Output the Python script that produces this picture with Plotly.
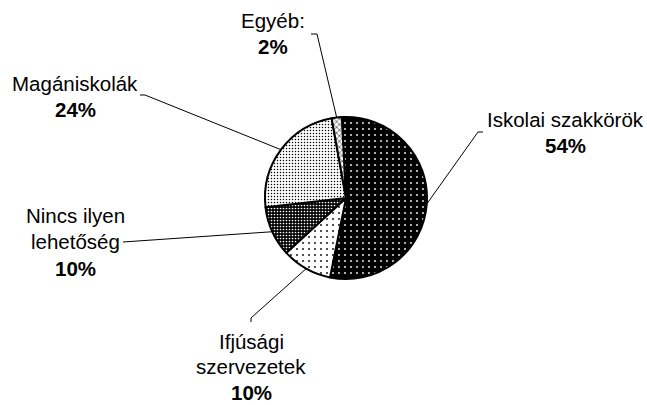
import math
import plotly.graph_objects as go

labels = ["Iskolai szakkörök", "Ifjúsági szervezetek", "Nincs ilyen lehetőség", "Magániskolák", "Egyéb:"]
label_lines = [["Iskolai szakkörök"], ["Ifjúsági", "szervezetek"], ["Nincs ilyen", "lehetőség"], ["Magániskolák"], ["Egyéb:"]]
values = [54, 10, 10, 24, 2]
pct_text = ["54%", "10%", "10%", "24%", "2%"]

W, H = 647, 405
CX, CY, R = 346, 198, 81
ROT = -3

bg = ["#000000", "#ffffff", "#000000", "#ffffff", "#ffffff"]
fg = ["#ffffff", "#000000", "#ffffff", "#000000", "#555555"]
shapes_p = [".", ".", ".", ".", "x"]
psize = [6, 6, 3, 3, 4]
psol = [0.07, 0.07, 0.25, 0.2, 0.35]

fig = go.Figure(go.Pie(
    labels=labels, values=values, sort=False, direction="clockwise", rotation=ROT,
    textinfo="none", hoverinfo="label+percent", showlegend=False,
    domain=dict(x=[(CX - R) / W, (CX + R) / W], y=[(H - CY - R) / H, (H - CY + R) / H]),
    marker=dict(colors=bg, line=dict(color="black", width=2),
                pattern=dict(shape=shapes_p, fgcolor=fg, bgcolor=bg, size=psize, solidity=psol)),
))

# label positions (pixel centers of first text line) and leader line elbows
label_pos = [(565, 119), (251, 341), (75, 215), (75, 83), (273, 20)]
elbows = [[(483, 132), (478, 132)], [(251, 322), (251, 318)], [(123, 242)], [(140, 95), (145, 95)], [(311, 34), (317, 34)]]
line_gap = [26.5, 25.5, 26.5, 26.5, 26.5]

def px(x):
    return x / W

def py(y):
    return 1 - y / H

total = sum(values)
cum = 0
shapes = []
annotations = []
for i, v in enumerate(values):
    mid = ROT + (cum + v / 2) / total * 360
    cum += v
    a = math.radians(mid)
    ex, ey = CX + R * math.sin(a), CY - R * math.cos(a)
    pts = elbows[i] + [(ex, ey)]
    for (x0, y0), (x1, y1) in zip(pts[:-1], pts[1:]):
        shapes.append(dict(type="line", xref="paper", yref="paper", x0=px(x0), y0=py(y0), x1=px(x1), y1=py(y1),
                           line=dict(color="black", width=1)))
    lx, ly = label_pos[i]
    lines = label_lines[i] + ["<b>" + pct_text[i] + "</b>"]
    for j, t in enumerate(lines):
        annotations.append(dict(text=t, x=px(lx), y=py(ly + j * line_gap[i]), xref="paper", yref="paper",
                                showarrow=False, xanchor="center", yanchor="middle",
                                font=dict(family="Liberation Sans, Arial", size=20.5, color="black")))

fig.update_layout(width=W, height=H, margin=dict(l=0, r=0, t=0, b=0),
                  paper_bgcolor="white", plot_bgcolor="white",
                  shapes=shapes, annotations=annotations)
fig.write_html("out.html", config={"displayModeBar": False},
               post_script="document.body.style.margin='0';document.body.style.overflow='hidden';")
